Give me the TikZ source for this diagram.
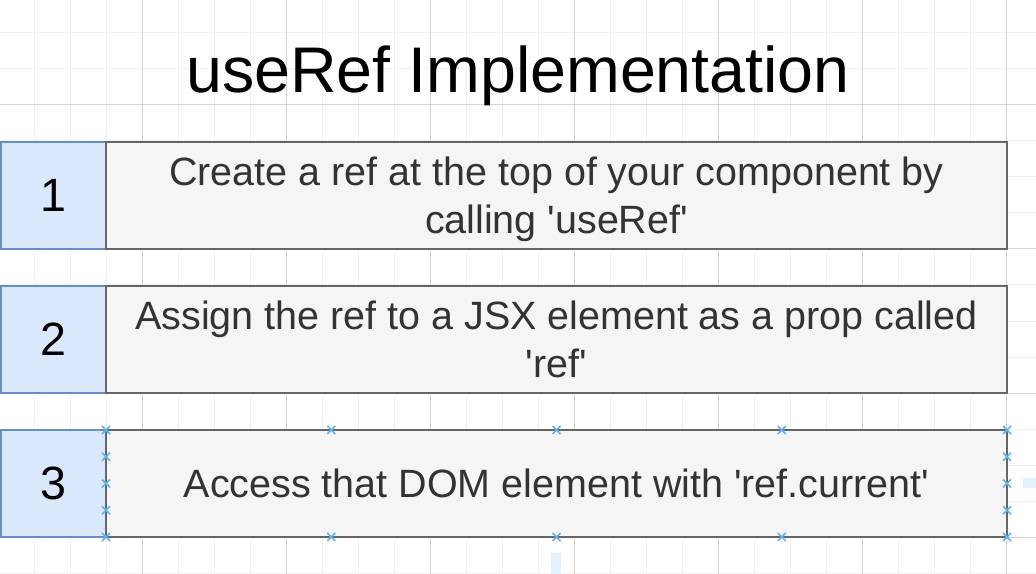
\documentclass[tikz,border=0pt]{standalone}
\usepackage{fontspec}
\setmainfont{Liberation Sans}
\usetikzlibrary{positioning}
\definecolor{numfill}{HTML}{DAE8FC}
\definecolor{numline}{HTML}{6C8EBF}
\definecolor{stepfill}{HTML}{F5F5F5}
\definecolor{stepline}{HTML}{666666}
\definecolor{steptext}{HTML}{333333}
\definecolor{gridminor}{HTML}{F1F1F1}
\definecolor{gridmajor}{HTML}{D4D4D4}
\definecolor{handleblue}{RGB}{95,180,238}
\definecolor{guideblue}{RGB}{226,241,251}
\newcommand{\rowstrut}{\rule[-0.2em]{0pt}{1.1em}}
\newcommand{\sq}{\textquotesingle}

\begin{document}
\begin{tikzpicture}[
  x=0.75pt,y=-0.75pt,
  node distance=27.75pt,
  numbox/.style={draw=numline,fill=numfill,line width=2pt,outer sep=0pt,inner sep=0pt,minimum width=78.75pt,minimum height=80.25pt,font=\fontsize{35}{42}\selectfont},
  stepbox/.style={draw=stepline,fill=stepfill,line width=2pt,outer sep=0pt,inner sep=0pt,minimum width=675.75pt,minimum height=80.25pt,align=center,text=steptext,font=\fontsize{29.6}{36}\selectfont},
  titletext/.style={font=\fontsize{48.4}{58}\selectfont},
  minorline/.style={gridminor,line width=0.75pt},
  majorline/.style={gridmajor,line width=0.75pt},
  handle/.style={handleblue,line width=1.3pt},
  guide/.style={fill=guideblue}
]
\useasboundingbox (0,0) rectangle (1036,574);
\fill[white] (0,0) rectangle (1036,574);
% grid
\foreach \gx in {34,70,...,1030} \draw[minorline] (\gx,0) -- (\gx,574);
\foreach \gy in {33,69,...,573} \draw[minorline] (0,\gy) -- (1036,\gy);
\foreach \gx in {142,286,...,1006} \draw[majorline] (\gx,0) -- (\gx,574);
\foreach \gy in {105,249,393,537} \draw[majorline] (0,\gy) -- (1036,\gy);
\fill[guide] (551,553) rectangle (561,574);
\fill[guide] (1023,478) rectangle (1036,488);

\node[titletext,anchor=base] (title) at (518,93) {useRef Implementation};

\node[numbox] (num1) at (53.5,195.5) {1};
\node[stepbox,right=0pt of num1] (txt1) {\rowstrut Create a ref at the top of your component by\\calling \sq useRef\sq\rowstrut};
\node[numbox,below=of num1] (num2) {2};
\node[stepbox,right=0pt of num2] (txt2) {\rowstrut Assign the ref to a JSX element as a prop called\\\sq ref\sq\rowstrut};
\node[numbox,below=of num2] (num3) {3};
\node[stepbox,right=0pt of num3] (txt3) {\rowstrut Access that DOM element with \sq ref.current\sq};

% selection handles
\foreach \hx in {106,331.25,556.5,781.75,1007}
  \foreach \hy in {430,537}
    \draw[handle] (\hx-4,\hy-4) -- (\hx+4,\hy+4) (\hx-4,\hy+4) -- (\hx+4,\hy-4);
\foreach \hx in {106,1007}
  \foreach \hy in {456.75,483.5,510.25}
    \draw[handle] (\hx-4,\hy-4) -- (\hx+4,\hy+4) (\hx-4,\hy+4) -- (\hx+4,\hy-4);
\end{tikzpicture}
\end{document}
